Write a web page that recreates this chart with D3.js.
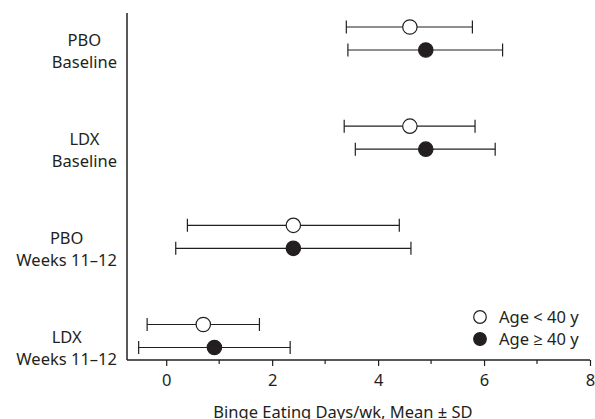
<!DOCTYPE html>
<html>
<head>
<meta charset="utf-8">
<script src="https://cdn.jsdelivr.net/npm/d3@7"></script>
<style>
  body { margin: 0; background: #fff; }
  text { font-family: "Noto Sans", "Open Sans", sans-serif; fill: #231f20; }
</style>
</head>
<body>
<div id="chart"></div>
<script>
// groups top to bottom, two label lines each
const groups = ["PBO|Baseline", "LDX|Baseline", "PBO|Weeks 11\u201312", "LDX|Weeks 11\u201312"];
const seriesNames = ["Age < 40 y", "Age \u2265 40 y"];

// mean and mean ± SD
const youngMean = [4.60, 4.60, 2.40, 0.70];
const youngLow = [3.40, 3.36, 0.40, -0.36];
const youngHigh = [5.78, 5.83, 4.40, 1.76];

const oldMean = [4.90, 4.90, 2.40, 0.91];
const oldLow = [3.43, 3.57, 0.18, -0.52];
const oldHigh = [6.35, 6.21, 4.62, 2.34];

const xTicks = [0, 2, 4, 6, 8];
const xMinorTicks = [1, 3, 5, 7];

const W = 595, H = 419;
const margin = { top: 13, right: 5, bottom: 59, left: 127 };
const ink = "#231f20";
const fontSize = "16.5px";

const svg = d3.select("#chart").append("svg")
	.attr("width", W)
	.attr("height", H);

const x = d3.scaleLinear().domain([-0.74, 8]).range([margin.left, W - margin.right]);

// group centres; the two series sit above / below the centre
const y = d3.scalePoint().domain(groups).range([38.5, 336]);
const offsets = [-11.5, 11.5];

const series = [
	{ name: seriesNames[0], fill: "#fff", mean: youngMean, low: youngLow, high: youngHigh },
	{ name: seriesNames[1], fill: ink, mean: oldMean, low: oldLow, high: oldHigh }
];

const rows = [];
series.forEach((s, si) => {
	groups.forEach((g, gi) => {
		rows.push({ g, si, fill: s.fill, mean: s.mean[gi], low: s.low[gi], high: s.high[gi] });
	});
});
const rowY = (d) => y(d.g) + offsets[d.si];

// axes
const xAxisY = H - margin.bottom;
svg.append("line")
	.attr("x1", margin.left).attr("x2", margin.left)
	.attr("y1", margin.top).attr("y2", xAxisY)
	.attr("stroke", ink).attr("stroke-width", 1.5);

const xAxis = svg.append("g")
	.attr("transform", `translate(0,${xAxisY})`)
	.call(d3.axisBottom(x).tickValues(xTicks).tickSize(6).tickPadding(8).tickSizeOuter(0));
xAxis.select(".domain").attr("d", `M${margin.left},0H${W - margin.right}`).attr("stroke", ink).attr("stroke-width", 1.5);
xAxis.selectAll(".tick line").attr("stroke", ink).attr("stroke-width", 1.2);
xAxis.selectAll(".tick text").style("font-size", fontSize).attr("fill", ink);

svg.append("g")
	.selectAll("line")
	.data(xMinorTicks)
	.join("line")
	.attr("x1", (d) => x(d)).attr("x2", (d) => x(d))
	.attr("y1", xAxisY).attr("y2", xAxisY + 4)
	.attr("stroke", ink).attr("stroke-width", 1.2);

svg.append("text")
	.attr("x", 343)
	.attr("y", 418)
	.attr("text-anchor", "middle")
	.style("font-size", fontSize)
	.text("Binge Eating Days/wk, Mean \u00b1 SD");

// group labels, lines centred on each other, block right edge fixed
const labels = svg.append("g");
groups.forEach((g) => {
	const lines = g.split("|");
	const cy = y(g) + 1.5;
	const t = labels.append("g");
	const texts = lines.map((l, i) => t.append("text")
		.attr("y", cy + i * 22)
		.attr("dy", "0.35em")
		.attr("text-anchor", "middle")
		.style("font-size", fontSize)
		.text(l));
	const wmax = d3.max(texts, (tx) => tx.node().getComputedTextLength());
	texts.forEach((tx) => tx.attr("x", 117 - wmax / 2));
});

// error bars
const cap = 6.5;
const bars = svg.append("g").attr("stroke", ink).attr("stroke-width", 1.2);
bars.selectAll("line.bar")
	.data(rows)
	.join("line")
	.attr("class", "bar")
	.attr("x1", (d) => x(d.low)).attr("x2", (d) => x(d.high))
	.attr("y1", rowY).attr("y2", rowY);
bars.selectAll("line.capl")
	.data(rows)
	.join("line")
	.attr("class", "capl")
	.attr("x1", (d) => x(d.low)).attr("x2", (d) => x(d.low))
	.attr("y1", (d) => rowY(d) - cap).attr("y2", (d) => rowY(d) + cap);
bars.selectAll("line.caph")
	.data(rows)
	.join("line")
	.attr("class", "caph")
	.attr("x1", (d) => x(d.high)).attr("x2", (d) => x(d.high))
	.attr("y1", (d) => rowY(d) - cap).attr("y2", (d) => rowY(d) + cap);

svg.append("g")
	.selectAll("circle")
	.data(rows)
	.join("circle")
	.attr("cx", (d) => x(d.mean))
	.attr("cy", rowY)
	.attr("r", 7.2)
	.attr("fill", (d) => d.fill)
	.attr("stroke", ink)
	.attr("stroke-width", 1.2);

// legend
const legend = svg.append("g").attr("transform", "translate(480,317)");
legend.selectAll("g")
	.data(series)
	.join("g")
	.attr("transform", (d, i) => `translate(0,${i * 22})`)
	.call((g) => g.append("circle")
		.attr("r", 6.3)
		.attr("fill", (d) => d.fill)
		.attr("stroke", ink)
		.attr("stroke-width", 1.2))
	.call((g) => g.append("text")
		.attr("x", 19)
		.attr("dy", "0.35em")
		.style("font-size", fontSize)
		.text((d) => d.name));
</script>
</body>
</html>
